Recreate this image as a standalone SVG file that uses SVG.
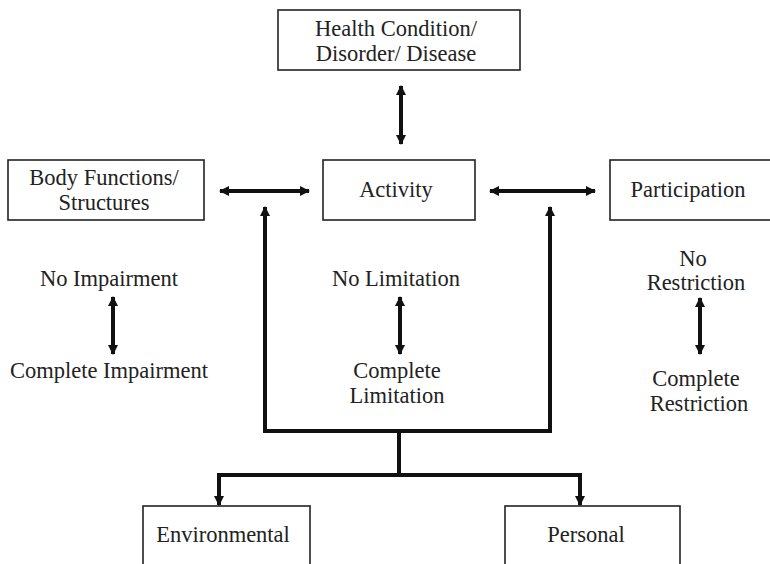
<svg xmlns="http://www.w3.org/2000/svg" width="770" height="564" viewBox="0 0 770 564">
  <style>
    .box { fill: #fff; stroke: #222; stroke-width: 1.6; }
    .lbl { font-family: "Liberation Serif", "Times New Roman", serif; font-size: 22.5px; fill: #222; text-anchor: middle; }
    .thick { fill: none; stroke: #111; stroke-width: 4; }
  </style>
  <defs>
    <marker id="head" viewBox="0 0 10 10" refX="9" refY="5" markerWidth="10" markerHeight="10" markerUnits="userSpaceOnUse" orient="auto-start-reverse">
      <path d="M0,0 L10,5 L0,10 Z" fill="#111"/>
    </marker>
  </defs>
  <rect width="770" height="564" fill="#fff"/>

  <g id="health">
    <rect class="box" x="278" y="10" width="242" height="60"/>
    <text class="lbl" x="396" y="36">Health Condition/</text>
    <text class="lbl" x="396" y="61">Disorder/ Disease</text>
  </g>
  <g id="body">
    <rect class="box" x="8" y="160" width="196" height="60"/>
    <text class="lbl" x="104" y="185">Body Functions/</text>
    <text class="lbl" x="104" y="210">Structures</text>
  </g>
  <g id="activity">
    <rect class="box" x="323" y="160" width="152" height="60"/>
    <text class="lbl" x="396" y="197">Activity</text>
  </g>
  <g id="participation">
    <rect class="box" x="610" y="160" width="170" height="60"/>
    <text class="lbl" x="688" y="197">Participation</text>
  </g>
  <g id="environmental">
    <rect class="box" x="143" y="506" width="167" height="70"/>
    <text class="lbl" x="223" y="542">Environmental</text>
  </g>
  <g id="personal">
    <rect class="box" x="505" y="506" width="175" height="70"/>
    <text class="lbl" x="586" y="542">Personal</text>
  </g>

  <g id="scales">
    <text class="lbl" x="109" y="286">No Impairment</text>
    <text class="lbl" x="109" y="378">Complete Impairment</text>
    <text class="lbl" x="396" y="286">No Limitation</text>
    <text class="lbl" x="397" y="378">Complete</text>
    <text class="lbl" x="397" y="403">Limitation</text>
    <text class="lbl" x="693" y="266">No</text>
    <text class="lbl" x="696" y="290">Restriction</text>
    <text class="lbl" x="696" y="386">Complete</text>
    <text class="lbl" x="699" y="411">Restriction</text>
  </g>

  <g id="connectors">
    <line class="thick" x1="401" y1="144" x2="401" y2="86" stroke-width="3.5" marker-start="url(#head)" marker-end="url(#head)"/>
    <line class="thick" x1="220" y1="191" x2="309" y2="191" stroke-width="3.5" marker-start="url(#head)" marker-end="url(#head)"/>
    <line class="thick" x1="490" y1="191" x2="595" y2="191" stroke-width="3.5" marker-start="url(#head)" marker-end="url(#head)"/>
    <line class="thick" x1="113" y1="297" x2="113" y2="354" stroke-width="3.5" marker-start="url(#head)" marker-end="url(#head)"/>
    <line class="thick" x1="400" y1="297" x2="400" y2="354" stroke-width="3.5" marker-start="url(#head)" marker-end="url(#head)"/>
    <line class="thick" x1="700" y1="298" x2="700" y2="354" stroke-width="3.5" marker-start="url(#head)" marker-end="url(#head)"/>
    <path class="thick" d="M265,207 V431 H550 V207" marker-start="url(#head)" marker-end="url(#head)"/>
    <path class="thick" d="M399,431 V475"/>
    <path class="thick" d="M219,505 V475 H580 V505" marker-start="url(#head)" marker-end="url(#head)"/>
  </g>
</svg>
